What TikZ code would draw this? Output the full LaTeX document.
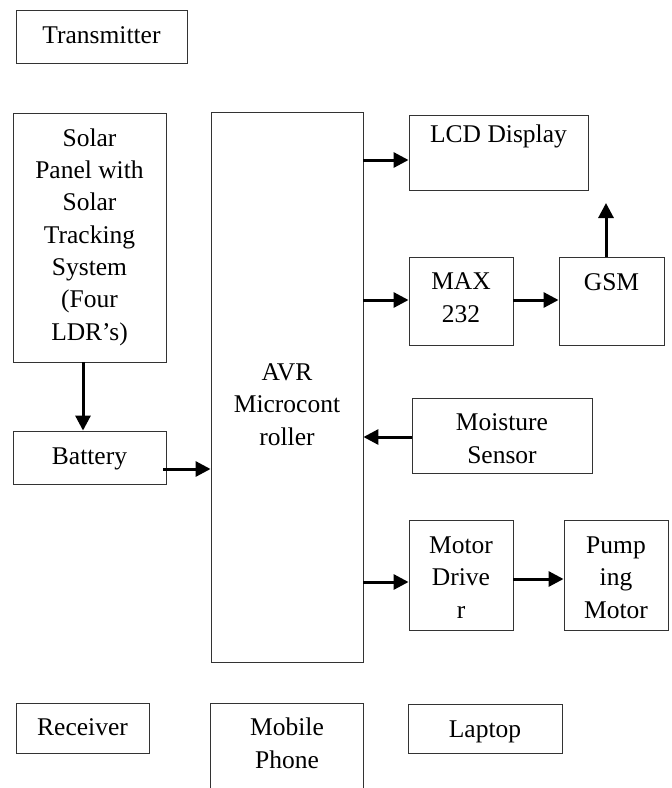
\documentclass[tikz,border=0pt]{standalone}
\usepackage{fontspec}
\setmainfont{Liberation Serif}
\usetikzlibrary{arrows.meta}
\tikzset{
  box/.style={draw=black!80, line width=0.9pt, inner sep=0pt, rectangle},
  openbox/.style={inner sep=0pt, rectangle},
  lbl/.style={inner sep=0pt, anchor=base, align=center, font=\fontsize{25.5}{32.3}\selectfont},
  arr/.style={line width=3pt, -{Triangle[length=15pt,width=15pt]}}
}
\begin{document}
\begin{tikzpicture}[x=1pt,y=-1pt]
\useasboundingbox[fill=white] (0,0) rectangle (672,788);
% boxes
\node[box, minimum width=171pt, minimum height=53pt] (trans) at (101.5,36.5) {};
\node[box, minimum width=153pt, minimum height=249pt] (solar) at (89.5,237.5) {};
\node[box, minimum width=152pt, minimum height=550pt] (avr) at (287,387) {};
\node[box, minimum width=153pt, minimum height=53pt] (batt) at (89.5,457.5) {};
\node[box, minimum width=179pt, minimum height=75pt] (lcd) at (498.5,152.5) {};
\node[box, minimum width=104pt, minimum height=88pt] (max) at (461,301) {};
\node[box, minimum width=105pt, minimum height=88pt] (gsm) at (611.5,301) {};
\node[box, minimum width=180pt, minimum height=75pt] (moist) at (502,435.5) {};
\node[box, minimum width=104pt, minimum height=110pt] (drv) at (461,575) {};
\node[box, minimum width=104pt, minimum height=110pt] (pump) at (616,575) {};
\node[box, minimum width=133pt, minimum height=50pt] (recv) at (82.5,728) {};
\node[openbox, minimum width=152pt, minimum height=88pt] (mob) at (287,748) {};
\draw[draw=black!80, line width=0.9pt] (mob.south west) |- (mob.north east) -- (mob.south east);
\node[box, minimum width=154pt, minimum height=49pt] (lap) at (485,728.5) {};
% labels (base = baseline of the last line)
\node[lbl] (transT) at (101.5,43) {Transmitter};
\node[lbl] (solarT) at (89.5,340) {Solar\\Panel with\\Solar\\Tracking\\System\\(Four\\LDR’s)};
\node[lbl] (avrT) at (287,445) {AVR\\Microcont\\roller};
\node[lbl] (battT) at (89.5,464) {Battery};
\node[lbl] (lcdT) at (498.5,142) {LCD Display};
\node[lbl] (maxT) at (461,322) {MAX\\232};
\node[lbl] (gsmT) at (611.5,290) {GSM};
\node[lbl] (moistT) at (502,463) {Moisture\\Sensor};
\node[lbl] (drvT) at (461,618) {Motor\\Drive\\r};
\node[lbl] (pumpT) at (616,618) {Pump\\ing\\Motor};
\node[lbl] (recvT) at (82.5,735) {Receiver};
\node[lbl] (mobT) at (287,768) {Mobile\\Phone};
\node[lbl] (lapT) at (485,737) {Laptop};
% connectors
\coordinate (gsmout) at (606,203);
\draw[arr] (avr.east |- 0,160) -- (lcd.west |- 0,160);
\draw[arr] (avr.east |- 0,300) -- (max.west |- 0,300);
\draw[arr] (max.east |- 0,300) -- (gsm.west |- 0,300);
\draw[arr] (gsm.north -| gsmout) -- (gsmout);
\draw[arr] (moist.west |- 0,437) -- (avr.east |- 0,437);
\draw[arr] (avr.east |- 0,582) -- (drv.west |- 0,582);
\draw[arr] (drv.east |- 0,579) -- (pump.west |- 0,579);
\draw[arr] (solar.south -| 83,0) -- (batt.north -| 83,0);
\draw[arr] ([xshift=-3pt]batt.east |- 0,469) -- (avr.west |- 0,469);
\end{tikzpicture}
\end{document}
